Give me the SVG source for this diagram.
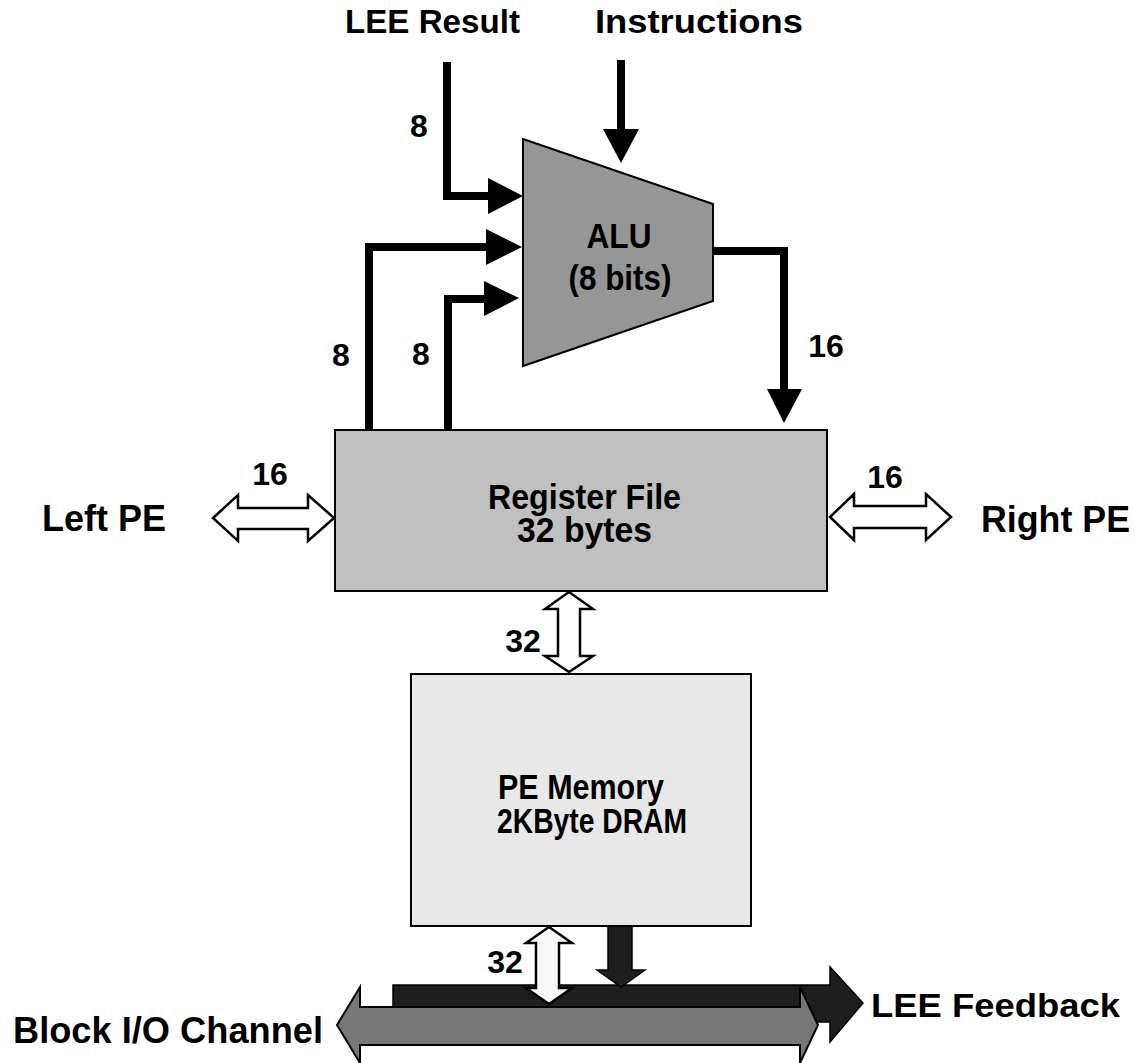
<svg xmlns="http://www.w3.org/2000/svg" width="1135" height="1063" viewBox="0 0 1135 1063">
<style>
  text { font-family: "Liberation Sans", Arial, sans-serif; font-weight: bold; fill: #000; }
  .lbl { font-size: 33px; }
  .side { font-size: 36px; }
  .inner { font-size: 35px; }
  .num { font-size: 32px; text-anchor: middle; }
  .wire { fill: none; stroke: #000; stroke-width: 8; stroke-linejoin: miter; }
  .head { fill: #000; stroke: none; }
  .dbl { fill: #ffffff; stroke: #000; stroke-width: 2.5; stroke-linejoin: miter; }
  .box { stroke: #000; stroke-width: 2; }
</style>
<rect width="1135" height="1063" fill="#ffffff"/>

<g id="connectors">
  <!-- LEE Result -> ALU -->
  <path class="wire" d="M447,62 V196 H490"/>
  <polygon class="head" points="488,178 523,196 488,214"/>
  <!-- Instructions -> ALU -->
  <path class="wire" d="M621,60 V131"/>
  <polygon class="head" points="603,129 639,129 621,163"/>
  <!-- Register File -> ALU (A) -->
  <path class="wire" d="M369,431 V247 H488"/>
  <polygon class="head" points="486,229 522,247 486,265"/>
  <!-- Register File -> ALU (B) -->
  <path class="wire" d="M448,431 V299 H486"/>
  <polygon class="head" points="484,281 519,298 484,316"/>
  <!-- ALU -> Register File -->
  <path class="wire" d="M712,251 H784 V391"/>
  <polygon class="head" points="767,389 802,389 784,423"/>

  <!-- Left PE <-> Register File -->
  <polygon class="dbl" points="213,518 238,495 238,508 308,508 308,495 334,518 308,541 308,529 238,529 238,541"/>
  <!-- Register File <-> Right PE -->
  <polygon class="dbl" points="830,517 854,494 854,506 926,506 926,494 951,517 926,540 926,528 854,528 854,540"/>
  <!-- Register File <-> PE Memory -->
  <polygon class="dbl" points="569,592 593,609 580,609 580,656 593,656 569,672 545,656 558,656 558,609 545,609"/>

  <!-- LEE Feedback bus -->
  <polygon fill="#1e1e1e" stroke="#000" stroke-width="1.5" points="393,985 830,985 830,967 863,1003 830,1042 830,1022 393,1022"/>
  <!-- Block I/O Channel bus -->
  <polygon fill="#777777" stroke="#000" stroke-width="2" points="337,1025 360,987 360,1007 800,1007 800,987 818,1025 800,1063 800,1045 360,1045 360,1063"/>
  <!-- PE Memory -> LEE Feedback -->
  <polygon fill="#1e1e1e" stroke="#000" stroke-width="1.5" points="608,926 632,926 632,970 645,970 621,987 597,970 608,970"/>
  <!-- PE Memory <-> Block I/O -->
  <polygon class="dbl" style="fill:#f8f8f8" points="549,927 572,943 559,943 559,988 572,988 549,1004 526,988 536,988 536,943 526,943"/>
</g>

<g id="alu">
  <polygon class="box" fill="#969696" points="523,139 713,204 713,301 523,366"/>
  <text class="inner" x="619" y="248" text-anchor="middle" textLength="65" lengthAdjust="spacingAndGlyphs">ALU</text>
  <text class="inner" x="620" y="290" text-anchor="middle" textLength="103" lengthAdjust="spacingAndGlyphs">(8 bits)</text>
</g>

<g id="register-file">
  <rect class="box" x="335" y="430" width="492" height="161" fill="#c0c0c0"/>
  <text class="inner" x="488" y="509" textLength="193" lengthAdjust="spacingAndGlyphs">Register File</text>
  <text class="inner" x="517" y="542" textLength="135" lengthAdjust="spacingAndGlyphs">32 bytes</text>
</g>

<g id="pe-memory">
  <rect class="box" x="411" y="674" width="340" height="252" fill="#e8e8e8"/>
  <text class="inner" x="498" y="799" textLength="166" lengthAdjust="spacingAndGlyphs">PE Memory</text>
  <text class="inner" x="497" y="833" textLength="190" lengthAdjust="spacingAndGlyphs">2KByte DRAM</text>
</g>

<g id="labels">
  <text class="lbl" x="345" y="33" textLength="175" lengthAdjust="spacingAndGlyphs">LEE Result</text>
  <text class="lbl" x="595" y="33" textLength="208" lengthAdjust="spacingAndGlyphs">Instructions</text>
  <text class="side" x="42" y="531" textLength="124" lengthAdjust="spacingAndGlyphs">Left PE</text>
  <text class="side" x="981" y="532" textLength="149" lengthAdjust="spacingAndGlyphs">Right PE</text>
  <text class="side" x="13" y="1043" textLength="310" lengthAdjust="spacingAndGlyphs">Block I/O Channel</text>
  <text class="lbl" x="871" y="1017" textLength="249" lengthAdjust="spacingAndGlyphs">LEE Feedback</text>

  <text class="num" x="419" y="137">8</text>
  <text class="num" x="341" y="366">8</text>
  <text class="num" x="421" y="365">8</text>
  <text class="num" x="826" y="357">16</text>
  <text class="num" x="270" y="485">16</text>
  <text class="num" x="885" y="488">16</text>
  <text class="num" x="523" y="652">32</text>
  <text class="num" x="505" y="973">32</text>
</g>
</svg>
